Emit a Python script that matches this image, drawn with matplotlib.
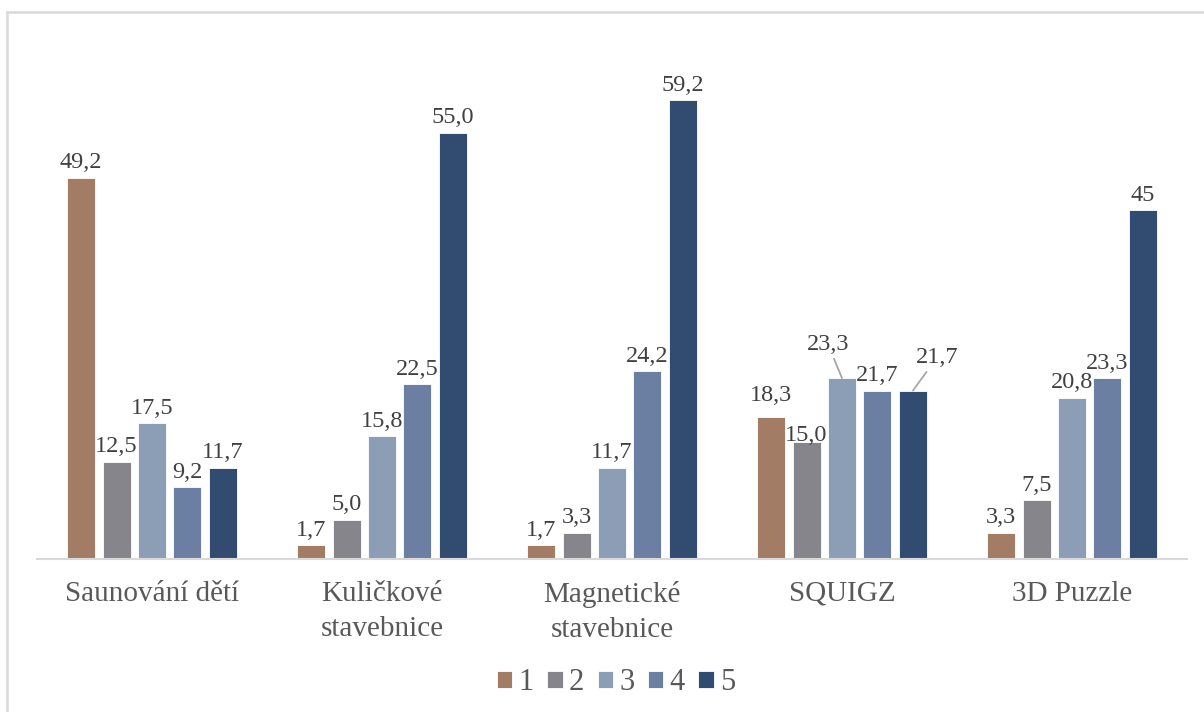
import matplotlib
matplotlib.use("Agg")
import matplotlib.pyplot as plt
from matplotlib.lines import Line2D
import numpy as np

categories = ["Saunování dětí", "Kuličkové\nstavebnice", "Magnetické\nstavebnice", "SQUIGZ", "3D Puzzle"]
series_names = ["1", "2", "3", "4", "5"]
s1 = [49.2, 1.7, 1.7, 18.3, 3.3]
s2 = [12.5, 5.0, 3.3, 15.0, 7.5]
s3 = [17.5, 15.8, 11.7, 23.3, 20.8]
s4 = [9.2, 22.5, 24.2, 21.7, 23.3]
s5 = [11.7, 55.0, 59.2, 21.7, 45]
label_s5 = ["11,7", "55,0", "59,2", "21,7", "45"]

series = [s1, s2, s3, s4, s5]
colors = ["#A37C66", "#86858C", "#8C9EB5", "#6A7FA1", "#324B71"]

plt.rcParams['font.family'] = ['Liberation Serif', 'DejaVu Serif']

W, H = 1204, 712
fig = plt.figure(figsize=(W / 100, H / 100), dpi=100)
ax = fig.add_axes([37 / W, 1 - 558.5 / H, 1150 / W, (558.5 - 39.9) / H])

slot = 0.1543
bw = 0.1217
x = np.arange(len(categories))

# custom label offsets (pixels) for specific bars: (group, series) -> (dx, dy)
special = {(3, 0): (0, 21), (3, 1): (0, 7), (3, 2): (-14, 34), (3, 4): (24, 33)}
leaders = {(3, 2), (3, 4)}

for j, (vals, c) in enumerate(zip(series, colors)):
    xs = x + (j - 2) * slot
    ax.bar(xs, vals, width=bw, color=c, edgecolor="white", linewidth=0.6, label=series_names[j], zorder=2)
    for i, (xx, v) in enumerate(zip(xs, vals)):
        if j == 4:
            txt = label_s5[i]
        else:
            txt = f"{v:.1f}".replace(".", ",")
        dx, dy = special.get((i, j), (0, 15))
        if (i, j) in leaders:
            ax.annotate(txt, xy=(xx, v), xytext=(dx, dy), textcoords="offset pixels",
                        ha="center", va="center", fontsize=17.5, color="#404040",
                        arrowprops=dict(arrowstyle="-", color="#A6A6A6", lw=1.3,
                                        shrinkA=1, shrinkB=0), zorder=3)
        else:
            ax.annotate(txt, xy=(xx, v), xytext=(dx, dy), textcoords="offset pixels",
                        ha="center", va="center", fontsize=17.5, color="#404040", zorder=3)

ax.set_xlim(-0.5, 4.5)
ax.set_ylim(0, 67)
ax.set_yticks([])
ax.set_xticks(x)
ax.set_xticklabels(categories, fontsize=21, color="#595959", linespacing=1.45, va="top")
ax.tick_params(axis="x", length=0, pad=16)
for s in ["top", "right", "left"]:
    ax.spines[s].set_visible(False)
ax.spines["bottom"].set_color("#D9D9D9")
ax.spines["bottom"].set_linewidth(1.5)
ax.patch.set_alpha(0)

leg = fig.legend(loc="center", bbox_to_anchor=(616 / W, 1 - 683 / H), ncol=5, frameon=False,
                 fontsize=22, handlelength=0.5, handleheight=0.5, handletextpad=0.2,
                 columnspacing=0.45, labelcolor="#595959")

# chart border (top and left only visible)
fig.add_artist(Line2D([7 / W, 1], [1 - 12 / H, 1 - 12 / H], color="#D9D9D9", lw=1.8, transform=fig.transFigure))
fig.add_artist(Line2D([7 / W, 7 / W], [0, 1 - 12 / H], color="#D9D9D9", lw=1.8, transform=fig.transFigure))

fig.savefig("out.png", dpi=100)
